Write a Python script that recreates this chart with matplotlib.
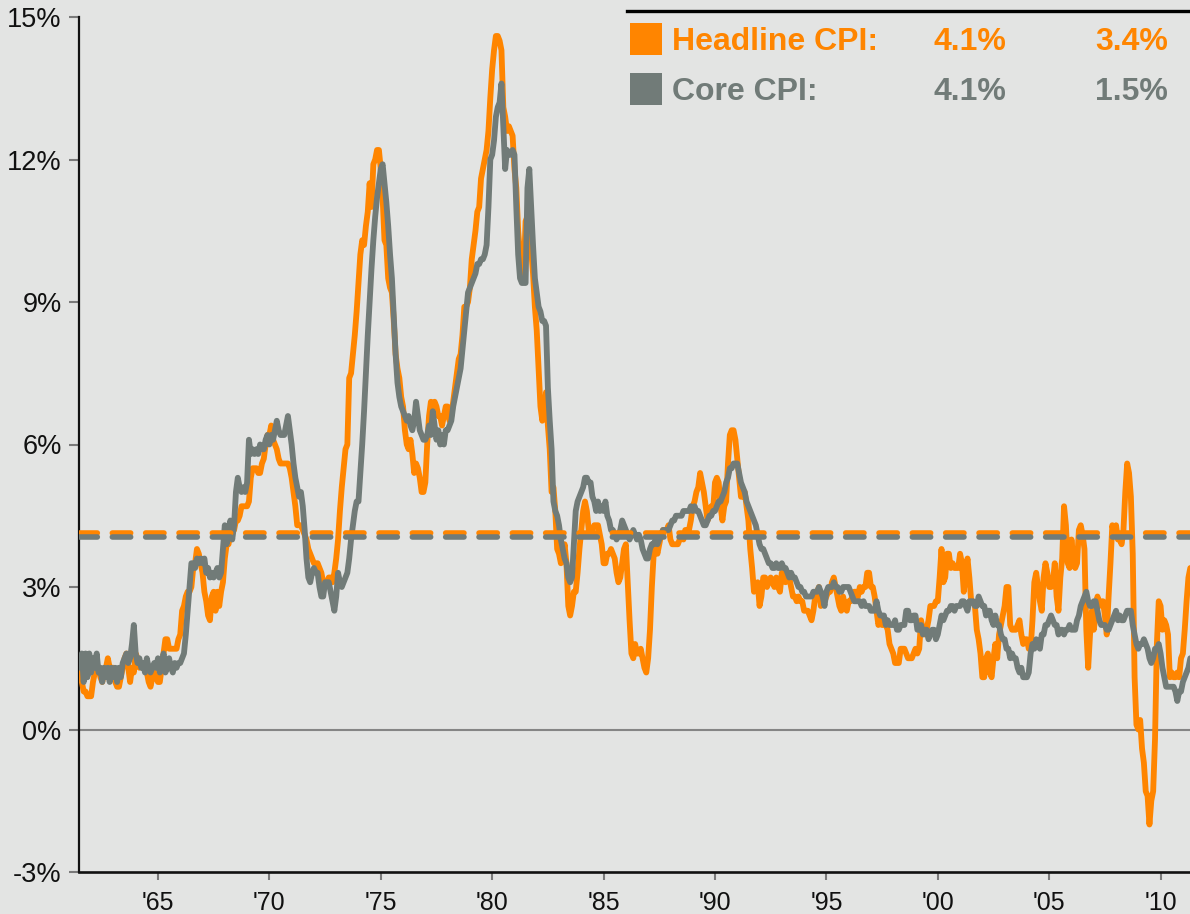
import numpy as np
import matplotlib
matplotlib.use("Agg")
import matplotlib.pyplot as plt
from matplotlib.patches import Rectangle
from matplotlib.lines import Line2D

plt.rcParams['font.family'] = ['Liberation Sans', 'DejaVu Sans']

# Year-over-year CPI inflation (%), monthly, Jul 1961 - May 2011
headline_1960s = [
    1.2, 1.0, 0.8, 0.8, 0.7, 0.7,
    0.7, 1.0, 1.2, 1.3, 1.3, 1.1, 1.0, 1.2, 1.3, 1.5, 1.3, 1.3,
    1.3, 1.0, 0.9, 0.9, 1.1, 1.3, 1.5, 1.6, 1.3, 1.0, 1.3, 1.2,
    1.6, 1.5, 1.3, 1.4, 1.3, 1.3, 1.2, 1.0, 0.9, 1.1, 1.2, 1.1,
    1.0, 1.0, 1.3, 1.6, 1.9, 1.9, 1.7, 1.7, 1.7, 1.7, 1.7, 1.9,
    2.0, 2.5, 2.6, 2.8, 2.9, 2.9, 3.0, 3.4, 3.5, 3.8, 3.7, 3.5,
    3.3, 2.9, 2.7, 2.4, 2.3, 2.8, 2.9, 2.5, 2.9, 2.6, 2.9, 3.1,
    3.6, 3.9, 3.9, 4.1, 4.2, 4.2, 4.4, 4.4, 4.5, 4.7, 4.7, 4.7,
    4.7, 4.8, 5.3, 5.5, 5.5, 5.5, 5.4, 5.4, 5.6, 5.7, 6.0, 6.2,
]
headline_1970s = [
    6.2, 6.4, 6.1, 6.0, 5.9, 5.7, 5.6, 5.6, 5.6, 5.6, 5.6, 5.5,
    5.3, 5.0, 4.7, 4.3, 4.3, 4.3, 4.2, 4.1, 4.0, 3.8, 3.7, 3.6,
    3.5, 3.5, 3.5, 3.4, 3.3, 3.1, 3.1, 3.1, 3.2, 3.2, 3.1, 3.3,
    3.6, 4.0, 4.6, 5.1, 5.5, 5.9, 6.0, 7.4, 7.5, 7.9, 8.3, 8.8,
    9.4, 10.0, 10.3, 10.2, 10.6, 10.9, 11.5, 11.0, 11.9, 12.0, 12.2, 12.2,
    11.8, 11.2, 10.3, 10.2, 9.5, 9.3, 9.2, 8.6, 7.9, 7.6, 7.4, 7.0,
    6.8, 6.3, 6.0, 5.9, 6.1, 5.8, 5.4, 5.6, 5.5, 5.3, 5.0, 5.0,
    5.2, 6.0, 6.6, 6.9, 6.7, 6.9, 6.8, 6.6, 6.6, 6.4, 6.6, 6.8,
    6.8, 6.5, 6.6, 6.9, 7.2, 7.5, 7.8, 7.9, 8.3, 8.9, 8.9, 9.0,
    9.3, 9.9, 10.2, 10.5, 10.9, 11.0, 11.6, 11.8, 12.0, 12.2, 12.6, 13.3,
]
headline_1980s = [
    13.9, 14.3, 14.6, 14.6, 14.5, 14.3, 13.1, 12.9, 12.6, 12.7, 12.6, 12.5,
    11.8, 11.4, 10.5, 10.0, 9.8, 9.6, 10.7, 10.8, 10.9, 10.1, 9.6, 8.9,
    8.4, 7.6, 6.8, 6.5, 6.7, 7.1, 6.4, 5.9, 5.0, 5.1, 4.6, 3.8,
    3.7, 3.5, 3.6, 3.9, 3.5, 2.6, 2.4, 2.6, 2.9, 2.9, 3.3, 3.8,
    4.2, 4.6, 4.8, 4.6, 4.2, 4.2, 4.2, 4.3, 4.3, 4.3, 4.1, 3.9,
    3.5, 3.5, 3.7, 3.7, 3.8, 3.7, 3.6, 3.3, 3.1, 3.2, 3.5, 3.8,
    3.9, 3.1, 2.3, 1.6, 1.5, 1.8, 1.6, 1.6, 1.7, 1.5, 1.3, 1.2,
    1.5, 2.1, 3.0, 3.7, 3.9, 3.7, 3.9, 4.1, 4.2, 4.2, 4.2, 4.3,
    4.0, 3.9, 3.9, 3.9, 3.9, 4.0, 4.1, 4.0, 4.2, 4.2, 4.2, 4.4,
    4.7, 4.8, 5.0, 5.1, 5.4, 5.2, 5.0, 4.7, 4.4, 4.5, 4.7, 4.6,
]
headline_1990s = [
    5.2, 5.3, 5.2, 4.7, 4.4, 4.7, 4.8, 5.6, 6.2, 6.3, 6.3, 6.1,
    5.7, 5.3, 4.9, 4.9, 5.0, 4.7, 4.4, 3.8, 3.4, 2.9, 3.0, 3.1,
    2.6, 2.8, 3.2, 3.2, 3.0, 3.1, 3.2, 3.1, 3.0, 3.2, 3.0, 2.9,
    3.3, 3.2, 3.1, 3.2, 3.2, 3.0, 2.8, 2.8, 2.7, 2.8, 2.7, 2.7,
    2.5, 2.5, 2.5, 2.4, 2.3, 2.5, 2.8, 2.9, 3.0, 2.6, 2.7, 2.7,
    2.8, 2.9, 2.9, 3.1, 3.2, 3.0, 2.8, 2.6, 2.5, 2.8, 2.6, 2.5,
    2.7, 2.7, 2.8, 2.9, 2.9, 2.8, 3.0, 2.9, 3.0, 3.0, 3.3, 3.3,
    3.0, 3.0, 2.8, 2.5, 2.2, 2.3, 2.2, 2.2, 2.2, 2.1, 1.8, 1.7,
    1.6, 1.4, 1.4, 1.4, 1.7, 1.7, 1.7, 1.6, 1.5, 1.5, 1.5, 1.6,
    1.7, 1.6, 1.7, 2.3, 2.1, 2.0, 2.1, 2.3, 2.6, 2.6, 2.6, 2.7,
]
headline_2000s = [
    2.7, 3.2, 3.8, 3.1, 3.2, 3.7, 3.7, 3.4, 3.5, 3.4, 3.4, 3.4,
    3.7, 3.5, 2.9, 3.3, 3.6, 3.2, 2.7, 2.7, 2.6, 2.1, 1.9, 1.6,
    1.1, 1.1, 1.5, 1.6, 1.2, 1.1, 1.5, 1.8, 1.5, 2.0, 2.2, 2.4,
    2.6, 3.0, 3.0, 2.2, 2.1, 2.1, 2.1, 2.2, 2.3, 2.0, 1.8, 1.9,
    1.9, 1.7, 1.7, 2.3, 3.1, 3.3, 3.0, 2.7, 2.5, 3.2, 3.5, 3.3,
    3.0, 3.0, 3.1, 3.5, 2.8, 2.5, 3.2, 3.6, 4.7, 4.3, 3.5, 3.4,
    4.0, 3.6, 3.4, 3.5, 4.2, 4.3, 4.1, 3.8, 2.1, 1.3, 2.0, 2.5,
    2.1, 2.4, 2.8, 2.6, 2.7, 2.7, 2.4, 2.0, 2.8, 3.5, 4.3, 4.1,
    4.3, 4.0, 4.0, 3.9, 4.2, 5.0, 5.6, 5.4, 4.9, 3.7, 1.1, 0.1,
    0.0, 0.2, -0.4, -0.7, -1.3, -1.4, -2.0, -1.5, -1.3, -0.2, 1.8, 2.7,
]
headline_2010s = [
    2.6, 2.1, 2.3, 2.2, 2.0, 1.1, 1.2, 1.1, 1.1, 1.2, 1.1, 1.5,
    1.6, 2.1, 2.7, 3.2, 3.4,
]

core_1960s = [
    1.3, 1.6, 1.0, 1.6, 1.1, 1.6,
    1.2, 1.5, 1.3, 1.6, 1.2, 1.3, 1.0, 1.3, 1.1, 1.3, 1.0, 1.3,
    1.1, 1.3, 1.0, 1.3, 1.1, 1.4, 1.5, 1.6, 1.4, 1.5, 1.8, 2.2,
    1.6, 1.4, 1.5, 1.3, 1.4, 1.2, 1.5, 1.3, 1.2, 1.3, 1.4, 1.3,
    1.5, 1.2, 1.3, 1.6, 1.2, 1.3, 1.5, 1.3, 1.2, 1.4, 1.3, 1.4,
    1.4, 1.5, 1.6, 2.0, 2.5, 3.0, 3.5, 3.5, 3.4, 3.6, 3.5, 3.6,
    3.5, 3.6, 3.3, 3.4, 3.2, 3.3, 3.2, 3.3, 3.4, 3.2, 3.3, 3.8,
    4.3, 3.9, 4.2, 4.4, 4.0, 4.3, 5.0, 5.3, 5.1, 5.0, 5.1, 5.0,
    5.2, 6.1, 5.8, 5.9, 5.8, 5.9, 5.8, 6.0, 5.9, 5.9, 6.1, 6.2,
]
core_1970s = [
    6.0, 6.2, 6.1, 6.3, 6.5, 6.3, 6.2, 6.2, 6.2, 6.4, 6.6, 6.3,
    6.0, 5.6, 5.3, 5.1, 4.9, 5.0, 4.7, 4.2, 3.6, 3.2, 3.1, 3.3,
    3.4, 3.3, 3.3, 3.0, 2.8, 2.8, 3.1, 3.1, 3.1, 2.9, 2.7, 2.5,
    2.8, 3.3, 3.1, 3.0, 3.1, 3.2, 3.3, 3.6, 4.0, 4.3, 4.6, 4.8,
    4.8, 5.4, 6.0, 6.7, 7.5, 8.3, 9.0, 9.7, 10.3, 10.8, 11.2, 11.5,
    11.8, 11.9, 11.5, 11.1, 10.6, 10.0, 9.5, 8.7, 7.9, 7.3, 7.0, 6.8,
    6.7, 6.6, 6.5, 6.6, 6.4, 6.3, 6.5, 6.9, 6.6, 6.3, 6.2, 6.1,
    6.1, 6.2, 6.4, 6.2, 6.7, 6.4, 6.1, 6.3, 6.0, 6.2, 6.0, 6.3,
    6.3, 6.4, 6.5, 6.8, 7.0, 7.2, 7.4, 7.6, 8.0, 8.4, 8.8, 9.2,
    9.3, 9.4, 9.5, 9.6, 9.8, 9.8, 9.9, 9.9, 10.0, 10.2, 11.0, 12.0,
]
core_1980s = [
    12.1, 12.4, 12.9, 13.1, 13.2, 13.6, 12.7, 11.8, 12.2, 12.1, 12.1, 12.2,
    12.1, 11.0, 10.0, 9.5, 9.4, 9.4, 9.4, 11.4, 11.8, 11.0, 10.2, 9.5,
    9.2, 8.9, 8.8, 8.6, 8.6, 8.5, 7.2, 6.5, 5.9, 4.8, 4.6, 4.5,
    4.3, 4.0, 3.8, 3.6, 3.5, 3.2, 3.1, 3.2, 3.9, 4.6, 4.8, 4.9,
    5.0, 5.1, 5.3, 5.3, 5.2, 5.2, 4.9, 4.8, 4.6, 4.8, 4.6, 4.7,
    4.6, 4.8, 4.5, 4.4, 4.2, 4.2, 4.1, 4.0, 4.1, 4.2, 4.4, 4.3,
    4.2, 4.1, 4.0, 4.1, 4.2, 4.1, 4.0, 4.1, 4.0, 3.8, 3.7, 3.6,
    3.6, 3.8, 3.9, 3.9, 4.0, 3.9, 4.0, 4.1, 4.2, 4.2, 4.2, 4.2,
    4.3, 4.4, 4.4, 4.5, 4.5, 4.5, 4.5, 4.6, 4.6, 4.6, 4.6, 4.7,
    4.6, 4.7, 4.6, 4.6, 4.5, 4.4, 4.3, 4.3, 4.4, 4.5, 4.5, 4.6,
]
core_1990s = [
    4.6, 4.7, 4.8, 4.8, 4.9, 5.0, 5.2, 5.3, 5.5, 5.5, 5.6, 5.6,
    5.6, 5.4, 5.2, 5.1, 5.0, 4.8, 4.7, 4.6, 4.5, 4.4, 4.3, 4.1,
    3.9, 3.8, 3.8, 3.7, 3.6, 3.5, 3.5, 3.4, 3.4, 3.5, 3.4, 3.4,
    3.5, 3.4, 3.4, 3.3, 3.2, 3.3, 3.2, 3.2, 3.1, 3.0, 3.0, 2.9,
    2.9, 2.8, 2.8, 2.8, 2.8, 2.9, 2.9, 2.9, 3.0, 2.9, 2.8, 2.6,
    2.9, 3.0, 3.0, 3.0, 3.1, 3.0, 3.0, 2.9, 2.9, 3.0, 3.0, 3.0,
    3.0, 2.9, 2.8, 2.7, 2.7, 2.7, 2.7, 2.6, 2.7, 2.6, 2.6, 2.6,
    2.5, 2.5, 2.5, 2.7, 2.5, 2.4, 2.4, 2.4, 2.2, 2.3, 2.2, 2.2,
    2.2, 2.3, 2.1, 2.1, 2.2, 2.2, 2.2, 2.5, 2.5, 2.3, 2.3, 2.4,
    2.4, 2.1, 2.1, 2.2, 2.0, 2.1, 2.1, 1.9, 2.0, 2.1, 2.1, 1.9,
]
core_2000s = [
    2.0, 2.2, 2.4, 2.3, 2.4, 2.5, 2.5, 2.6, 2.6, 2.5, 2.6, 2.6,
    2.6, 2.7, 2.7, 2.6, 2.5, 2.7, 2.7, 2.7, 2.6, 2.6, 2.8, 2.7,
    2.6, 2.6, 2.4, 2.5, 2.5, 2.3, 2.2, 2.4, 2.2, 2.2, 2.0, 1.9,
    1.9, 1.7, 1.7, 1.5, 1.6, 1.5, 1.5, 1.3, 1.2, 1.3, 1.1, 1.1,
    1.1, 1.2, 1.6, 1.8, 1.7, 1.9, 1.8, 1.7, 2.0, 2.0, 2.2, 2.2,
    2.3, 2.4, 2.3, 2.2, 2.2, 2.0, 2.1, 2.1, 2.0, 2.1, 2.1, 2.2,
    2.1, 2.1, 2.1, 2.3, 2.4, 2.6, 2.7, 2.8, 2.9, 2.7, 2.6, 2.6,
    2.7, 2.7, 2.5, 2.3, 2.2, 2.2, 2.2, 2.1, 2.1, 2.2, 2.3, 2.4,
    2.5, 2.3, 2.4, 2.3, 2.3, 2.4, 2.5, 2.5, 2.5, 2.2, 2.0, 1.8,
    1.7, 1.8, 1.8, 1.9, 1.8, 1.7, 1.5, 1.4, 1.5, 1.7, 1.7, 1.8,
]
core_2010s = [
    1.6, 1.3, 1.1, 0.9, 0.9, 0.9, 0.9, 0.9, 0.8, 0.6, 0.8, 0.8,
    1.0, 1.1, 1.2, 1.3, 1.5,
]

# Long-run averages shown as dashed reference lines
headline_avg = 4.14
core_avg = 4.06

start_year = 1961 + 6 / 12  # July 1961
x_ticks = [1965, 1970, 1975, 1980, 1985, 1990, 1995, 2000, 2005, 2010]
x_labels = ["'65", "'70", "'75", "'80", "'85", "'90", "'95", "'00", "'05", "'10"]
y_ticks = [-3, 0, 3, 6, 9, 12, 15]

headline = np.array(headline_1960s + headline_1970s + headline_1980s
                    + headline_1990s + headline_2000s + headline_2010s)
core = np.array(core_1960s + core_1970s + core_1980s
                + core_1990s + core_2000s + core_2010s)
dates = start_year + np.arange(len(headline)) / 12.0

BG = '#e3e4e3'
ORANGE = '#ff8500'
GRAY = '#717b78'

W, H = 1190, 914
fig = plt.figure(figsize=(W / 100, H / 100), dpi=100, facecolor=BG)
ax = fig.add_axes([79 / W, 42 / H, 1111 / W, 855 / H], facecolor=BG)
ax.set_xlim(1961.456, 2011.32)
ax.set_ylim(-3, 15)

ax.axhline(0, color='#858585', lw=1.5, zorder=1)
line_kw = dict(lw=4.2, solid_joinstyle='round', solid_capstyle='round')
ax.plot(dates, headline, color=ORANGE, zorder=3, **line_kw)
ax.plot(dates, core, color=GRAY, zorder=4, **line_kw)

dash_kw = dict(lw=4.0, dash_capstyle='round', linestyle=(0, (3.3, 2.7)))
ax.axhline(headline_avg, color=ORANGE, zorder=5, **dash_kw)
ax.axhline(core_avg, color=GRAY, zorder=6, **dash_kw)

for side in ('top', 'right'):
    ax.spines[side].set_visible(False)
ax.spines['left'].set_linewidth(1.6)
ax.spines['bottom'].set_linewidth(1.9)
ax.spines['left'].set_color('#111111')
ax.spines['bottom'].set_color('#111111')

ax.set_yticks(y_ticks)
ax.set_yticklabels([f"{v}%" for v in y_ticks])
ax.set_xticks(x_ticks)
ax.set_xticklabels(x_labels)
ax.tick_params(axis='y', direction='out', length=7.5, width=1.5,
               color='#7a7a7a', pad=5, labelsize=19.5, labelcolor='#111111')
ax.tick_params(axis='x', direction='out', length=6, width=1.5,
               color='#7a7a7a', pad=8, labelsize=18, labelcolor='#111111')

# Key block in the upper right
fig.add_artist(Line2D([627 / W, 1.0], [1 - 10.5 / H] * 2, color='black',
                      lw=2.4, transform=fig.transFigure))
rows = [
    ("Headline CPI:", ORANGE, headline_avg, headline[-1], 50, 23),
    ("Core CPI:", GRAY, core_avg, core[-1], 100, 73),
]
for name, color, avg, last, base_y, box_top in rows:
    fig.add_artist(Rectangle((630 / W, 1 - (box_top + 32) / H), 32 / W, 32 / H,
                             transform=fig.transFigure, color=color, lw=0))
    fig.text(672 / W, 1 - base_y / H, name, color=color, fontsize=23,
             fontweight='bold', ha='left', va='baseline')
    fig.text(1006 / W, 1 - base_y / H, f"{avg:.1f}%", color=color, fontsize=23,
             fontweight='bold', ha='right', va='baseline')
    fig.text(1168 / W, 1 - base_y / H, f"{last:.1f}%", color=color, fontsize=23,
             fontweight='bold', ha='right', va='baseline')

fig.savefig('out.png', dpi=100, facecolor=BG)
